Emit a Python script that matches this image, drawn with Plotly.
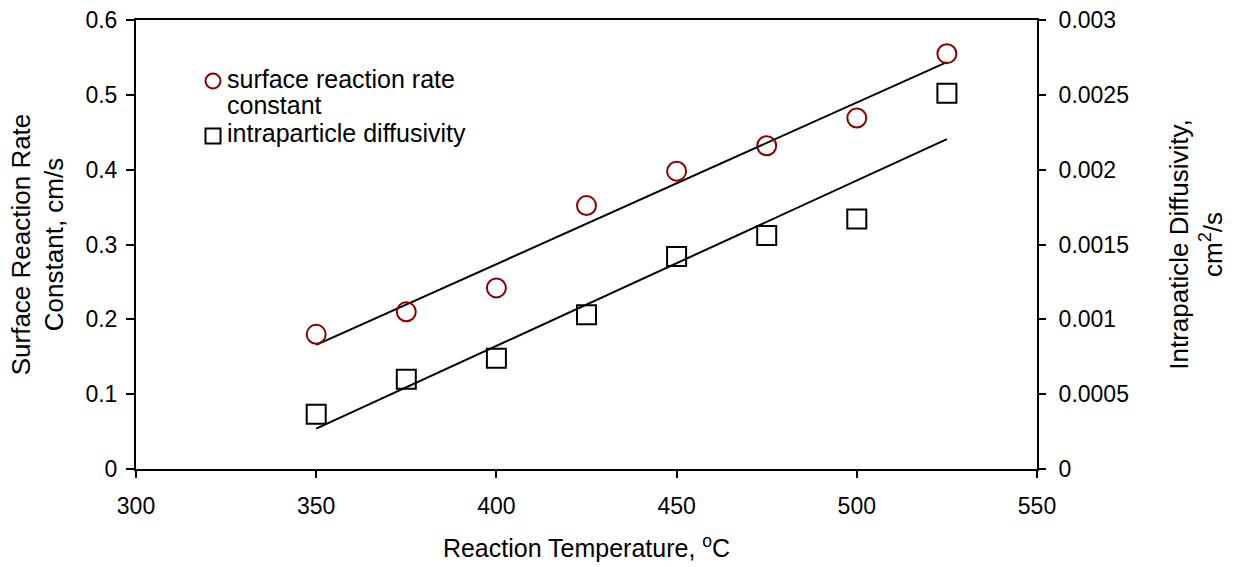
import numpy as np
import plotly.graph_objects as go

temps = [350, 375, 400, 425, 450, 475, 500, 525]
rate_const = [0.180, 0.210, 0.242, 0.352, 0.398, 0.432, 0.469, 0.555]
diffusivity = [0.000365, 0.00060, 0.00074, 0.00103, 0.00142, 0.00156, 0.00167, 0.00251]

x_ticks = [300, 350, 400, 450, 500, 550]
y1_ticks = [0, 0.1, 0.2, 0.3, 0.4, 0.5, 0.6]
y1_text = ["0", "0.1", "0.2", "0.3", "0.4", "0.5", "0.6"]
y2_ticks = [0, 0.0005, 0.001, 0.0015, 0.002, 0.0025, 0.003]
y2_text = ["0", "0.0005", "0.001", "0.0015", "0.002", "0.0025", "0.003"]

legend_lines = ["surface reaction rate", "constant", "intraparticle diffusivity"]

FONT = "Arial, Liberation Sans, sans-serif"
RED = "#8B0000"

# plot area in pixels
W, H = 1234, 567
ML, MR, MT, MB = 136, 197, 20, 98
PW, PH = W - ML - MR, H - MT - MB


def px(x):
    return (x - ML) / PW


def py(y):
    return (H - MB - y) / PH


t = np.array(temps, dtype=float)
p1 = np.polyfit(t, rate_const, 1)
p2 = np.polyfit(t, diffusivity, 1)
tx = np.array([temps[0], temps[-1]], dtype=float)

fig = go.Figure()
fig.add_trace(go.Scatter(x=tx, y=np.polyval(p1, tx), mode="lines",
                         line=dict(color="black", width=2), showlegend=False, yaxis="y"))
fig.add_trace(go.Scatter(x=tx, y=np.polyval(p2, tx), mode="lines",
                         line=dict(color="black", width=2), showlegend=False, yaxis="y2"))
fig.add_trace(go.Scatter(x=temps, y=rate_const, mode="markers", name="surface reaction rate constant",
                         marker=dict(symbol="circle-open", size=19, color=RED, line=dict(width=2)),
                         showlegend=False, yaxis="y"))
fig.add_trace(go.Scatter(x=temps, y=diffusivity, mode="markers", name="intraparticle diffusivity",
                         marker=dict(symbol="square-open", size=19, color="black", line=dict(width=2)),
                         showlegend=False, yaxis="y2"))

axis_common = dict(showgrid=False, zeroline=False, showline=True, linecolor="black", linewidth=2,
                   ticks="outside", tickcolor="black", tickwidth=2, automargin=False,
                   tickfont=dict(family=FONT, size=23, color="black"))

# manual legend (symbol aligned with first text line, as in the original)
annotations = []
for txt, yc in zip(legend_lines, [79, 105, 133]):
    annotations.append(dict(text=txt, xref="paper", yref="paper", x=px(225), y=py(yc),
                            xanchor="left", yanchor="middle", showarrow=False,
                            font=dict(family=FONT, size=25, color="black")))
shapes = [
    dict(type="circle", xref="paper", yref="paper", xsizemode="pixel", ysizemode="pixel",
         xanchor=px(213), yanchor=py(81), x0=-7.5, x1=7.5, y0=-7.5, y1=7.5,
         line=dict(color=RED, width=2)),
    dict(type="rect", xref="paper", yref="paper", xsizemode="pixel", ysizemode="pixel",
         xanchor=px(213), yanchor=py(136), x0=-7.5, x1=7.5, y0=-7.5, y1=7.5,
         line=dict(color="black", width=2)),
]

fig.update_layout(
    width=W, height=H,
    margin=dict(l=ML, r=MR, t=MT, b=MB, autoexpand=False),
    paper_bgcolor="white", plot_bgcolor="white",
    font=dict(family=FONT, size=23, color="black"),
    showlegend=False,
    xaxis=dict(range=[300, 550], tickvals=x_ticks, ticklen=7, mirror=True, ticklabelstandoff=8,
               title=dict(text="Reaction Temperature, <sup>o</sup>C", font=dict(family=FONT, size=25), standoff=22),
               **axis_common),
    yaxis=dict(range=[0, 0.6], tickvals=y1_ticks, ticktext=y1_text, ticklen=8, ticklabelstandoff=4,
               title=dict(text="Surface Reaction Rate<br>Constant, cm/s", font=dict(family=FONT, size=26), standoff=14),
               **axis_common),
    yaxis2=dict(range=[0, 0.003], tickvals=y2_ticks, ticktext=y2_text, ticklen=7, ticklabelstandoff=8,
                overlaying="y", side="right",
                title=dict(text="Intrapaticle Diffusivity,<br>cm<sup>2</sup>/s", font=dict(family=FONT, size=26), standoff=42),
                **axis_common),
    annotations=annotations,
    shapes=shapes,
)

fig.write_html("out.html")
